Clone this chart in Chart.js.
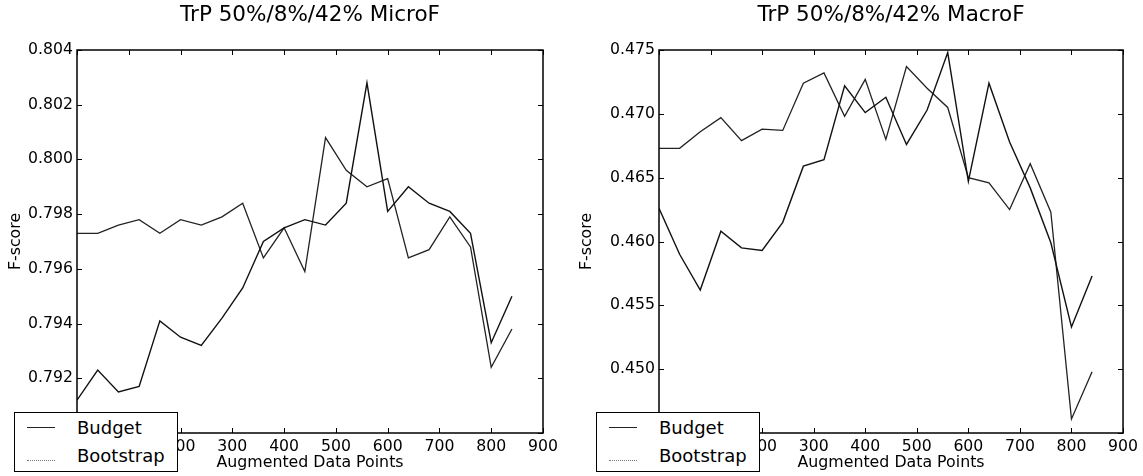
<!DOCTYPE html>
<html>
<head>
<meta charset="utf-8">
<script src="https://cdn.jsdelivr.net/npm/chart.js@4.4.0/dist/chart.umd.min.js"></script>
<style>
    html, body { margin: 0; padding: 0; overflow: hidden; background: #fff; font-family: "DejaVu Sans", sans-serif; }
    #wrap { position: relative; width: 1143px; height: 476px; overflow: hidden; }
    .box { position: absolute; top: 0; height: 476px; }
    .box canvas { display: block; }
    .legend {
        position: absolute; top: 412px; height: 58px; width: 162px; box-sizing: content-box;
        border: 1px solid #000; background: #fff; z-index: 5;
        font-size: 18px; line-height: 18px; color: #000;
    }
    .legend .swatch { position: absolute; left: 12px; width: 28px; height: 0; border-top: 1px solid #222; }
    .legend .swatch.dot { border-top: 1px dotted #777; }
    .legend .txt { position: absolute; left: 62px; height: 18px; white-space: nowrap; }
</style>
</head>
<body>
<div id="wrap">
    <div class="box" style="left:0;width:571px"><canvas id="micro-chart"></canvas></div>
    <div class="box" style="left:571px;width:572px"><canvas id="macro-chart"></canvas></div>
    <div class="legend" style="left:14px">
        <span class="swatch" style="top:14px"></span><span class="txt" style="top:6px">Budget</span>
        <span class="swatch dot" style="top:47px"></span><span class="txt" style="top:34px">Bootstrap</span>
    </div>
    <div class="legend" style="left:596px">
        <span class="swatch" style="top:14px"></span><span class="txt" style="top:6px">Budget</span>
        <span class="swatch dot" style="top:47px"></span><span class="txt" style="top:34px">Bootstrap</span>
    </div>
</div>
<script>
// augmented data points (x)
var points = [0, 40, 80, 120, 160, 200, 240, 280, 320, 360, 400, 440, 480, 520, 560, 600, 640, 680, 720, 760, 800, 840];

// MicroF
var microBudget = [0.7912, 0.7923, 0.7915, 0.7917, 0.7941, 0.7935, 0.7932, 0.7942, 0.7953, 0.7970, 0.7975,
    0.7978, 0.7976, 0.7984, 0.8028, 0.7981, 0.7990, 0.7984, 0.7981, 0.7973, 0.7933, 0.7950];
var microBootstrap = [0.7973, 0.7973, 0.7976, 0.7978, 0.7973, 0.7978, 0.7976, 0.7979, 0.7984, 0.7964, 0.7975,
    0.7959, 0.8008, 0.7996, 0.7990, 0.7993, 0.7964, 0.7967, 0.7979, 0.7968, 0.7924, 0.7938];

// MacroF
var macroBudget = [0.4626, 0.4590, 0.4562, 0.4608, 0.4595, 0.4593, 0.4615, 0.4659, 0.4664, 0.4722, 0.4701,
    0.4713, 0.4676, 0.4703, 0.4748, 0.4647, 0.4724, 0.4678, 0.4642, 0.4599, 0.4533, 0.4573];
var macroBootstrap = [0.4673, 0.4673, 0.4686, 0.4697, 0.4679, 0.4688, 0.4687, 0.4724, 0.4732, 0.4698, 0.4727,
    0.4680, 0.4737, 0.4720, 0.4705, 0.4650, 0.4646, 0.4625, 0.4661, 0.4623, 0.4461, 0.4498];

var xTicks = [0, 100, 200, 300, 400, 500, 600, 700, 800, 900];
var microTicks = [0.790, 0.792, 0.794, 0.796, 0.798, 0.800, 0.802, 0.804];
var macroTicks = [0.445, 0.450, 0.455, 0.460, 0.465, 0.470, 0.475];

var FONT = '"DejaVu Sans", sans-serif';

// frame + inward ticks like matplotlib
var frame = {
    id: 'frame',
    afterDraw: function(chart) {
        var ctx = chart.ctx, a = chart.chartArea;
        var xs = chart.scales.x, ys = chart.scales.y;
        ctx.save();
        ctx.strokeStyle = '#000';
        ctx.lineWidth = 1.5;
        ctx.strokeRect(a.left, a.top, a.right - a.left, a.bottom - a.top);
        ctx.lineWidth = 1;
        ctx.beginPath();
        xs.ticks.forEach(function(t) {
            var px = Math.round(xs.getPixelForValue(t.value)) + 0.5;
            ctx.moveTo(px, a.bottom); ctx.lineTo(px, a.bottom - 5);
            ctx.moveTo(px, a.top); ctx.lineTo(px, a.top + 5);
        });
        ys.ticks.forEach(function(t) {
            var py = Math.round(ys.getPixelForValue(t.value)) + 0.5;
            ctx.moveTo(a.left, py); ctx.lineTo(a.left + 5, py);
            ctx.moveTo(a.right, py); ctx.lineTo(a.right - 5, py);
        });
        ctx.stroke();
        ctx.restore();
    }
};

function toXY(vals) {
    return vals.map(function(v, i) { return { x: points[i], y: v }; });
}

function buildLineChart(id, title, budget, bootstrap, yTicks, step, yWidth, padRight) {
    var ctx = document.getElementById(id);
    return new Chart(ctx, {
        type: 'line',
        data: {
            datasets: [{
                label: 'Budget',
                data: toXY(budget),
                borderColor: '#111',
                borderWidth: 1.4,
                pointRadius: 0,
                tension: 0
            }, {
                label: 'Bootstrap',
                data: toXY(bootstrap),
                borderColor: '#222',
                borderWidth: 1.3,
                pointRadius: 0,
                tension: 0
            }]
        },
        options: {
            responsive: true,
            maintainAspectRatio: false,
            animation: false,
            layout: { padding: { left: 0, right: padRight, top: 0, bottom: 0 } },
            plugins: {
                legend: { display: false },
                tooltip: { enabled: false },
                title: {
                    display: true,
                    text: title,
                    fullSize: false,
                    color: '#000',
                    font: { family: FONT, size: 21.5, weight: 'normal' },
                    padding: { top: 2.5, bottom: 21.7 }
                }
            },
            scales: {
                x: {
                    type: 'linear',
                    min: xTicks[0],
                    max: xTicks[xTicks.length - 1],
                    grid: { display: false, drawTicks: false },
                    border: { display: false },
                    ticks: {
                        stepSize: 100,
                        color: '#000',
                        padding: 5,
                        maxRotation: 0,
                        font: { family: FONT, size: 15.7 }
                    },
                    title: {
                        display: true,
                        text: 'Augmented Data Points',
                        color: '#000',
                        font: { family: FONT, size: 15.8 },
                        padding: { top: 0, bottom: 4 }
                    },
                    afterFit: function(s) { s.height = 43; }
                },
                y: {
                    min: yTicks[0],
                    max: yTicks[yTicks.length - 1],
                    grid: { display: false, drawTicks: false },
                    border: { display: false },
                    ticks: {
                        stepSize: step,
                        color: '#000',
                        padding: 4,
                        font: { family: FONT, size: 15.7 },
                        callback: function(v) { return v.toFixed(3); }
                    },
                    title: {
                        display: true,
                        text: 'F-score',
                        color: '#000',
                        font: { family: FONT, size: 15.8 },
                        padding: { top: 6, bottom: 0 }
                    },
                    afterFit: function(s) { s.width = yWidth; }
                }
            }
        },
        plugins: [frame]
    });
}

buildLineChart('micro-chart', 'TrP 50%/8%/42% MicroF', microBudget, microBootstrap, microTicks, 0.002, 77, 28);
buildLineChart('macro-chart', 'TrP 50%/8%/42% MacroF', macroBudget, macroBootstrap, macroTicks, 0.005, 88, 19);
</script>
</body>
</html>
